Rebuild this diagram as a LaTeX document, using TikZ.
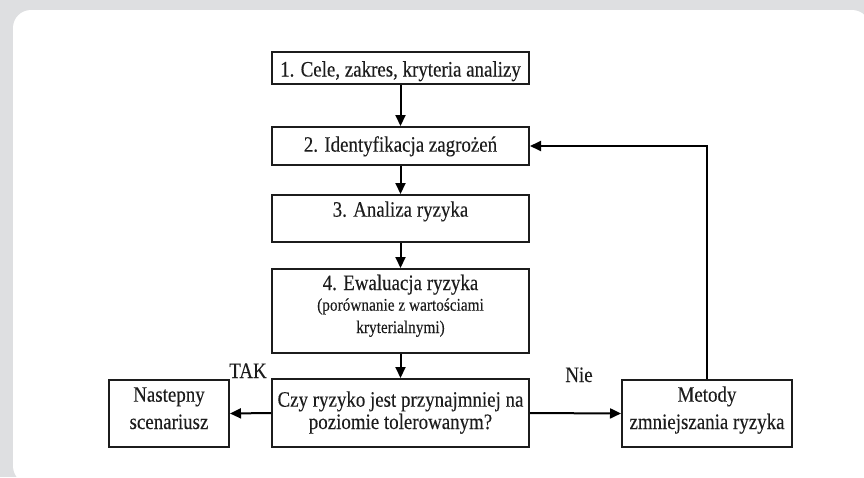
\documentclass[tikz,border=0pt]{standalone}
\usepackage{fontspec}
\setmainfont[FakeStretch=0.86, FakeBold=0.15]{Liberation Serif}
\usetikzlibrary{arrows.meta}
\newcommand\mainsize{\fontsize{22}{24}\selectfont}
\newcommand\smallsize{\fontsize{17.8}{20}\selectfont}
\definecolor{pagegray}{RGB}{222,223,225}
\definecolor{ink}{RGB}{28,28,28}
\begin{document}
\begin{tikzpicture}[x=1pt,y=-1pt,
  box/.style={draw=ink, line width=2pt, fill=white, inner sep=0pt},
  flow/.style={draw=black, line width=2pt, -{Triangle[length=11pt,width=10pt]}},
  lbl/.style={anchor=base, inner sep=0pt, text=ink, font=\mainsize},
  sml/.style={lbl, font=\smallsize}]

% page background and white panel
\useasboundingbox (0,0) rectangle (864,477);
\fill[pagegray] (0,0) rectangle (864,477);
\fill[white, rounded corners=18pt] (13,10) rectangle (870,484);

% main column of steps
\node[box, minimum width=257, minimum height=32] (b1) at (400.5,68) {};
\node[box, minimum width=257, minimum height=38] (b2) at (400.5,146) {};
\node[box, minimum width=257, minimum height=47] (b3) at (400.5,218.5) {};
\node[box, minimum width=257, minimum height=84] (b4) at (400.5,311) {};
\node[box, minimum width=257, minimum height=68] (b5) at (400.5,413) {};
% side boxes
\node[box, minimum width=120, minimum height=67] (nx) at (169,413.5) {};
\node[box, minimum width=170, minimum height=67] (md) at (707,413.5) {};

% box texts
\node[lbl] (t1) at (400.5,76.5) {1. Cele, zakres, kryteria analizy};
\node[lbl] (t2) at (400.5,151.7) {2. Identyfikacja zagrożeń};
\node[lbl] (t3) at (400.5,216.7) {3. Analiza ryzyka};
\node[lbl] (t4a) at (400.5,290) {4. Ewaluacja ryzyka};
\node[sml] (t4b) at (400.5,310.7) {(porównanie z wartościami};
\node[sml] (t4c) at (400.5,333) {kryterialnymi)};
\node[lbl] (t5a) at (400.5,406.7) {Czy ryzyko jest przynajmniej na};
\node[lbl] (t5b) at (400.5,429) {poziomie tolerowanym?};
\node[lbl] (tna) at (169,401.7) {Nastepny};
\node[lbl] (tnb) at (169,429) {scenariusz};
\node[lbl] (tma) at (707,401.7) {Metody};
\node[lbl] (tmb) at (707,429) {zmniejszania ryzyka};

% decision labels
\node[lbl] (tak) at (248,378) {TAK};
\node[lbl] (nie) at (579,382) {Nie};

% connectors
\draw[flow] (b1.south) -- (b2.north);
\draw[flow] (b2.south) -- (b3.north);
\draw[flow] (b3.south) -- (b4.north);
\draw[flow] (b4.south) -- (b5.north);
\draw[flow] (b5.west) -- (nx.east);
\draw[flow] (b5.east) -- (md.west);
\draw[flow] (md.north) |- (b2.east);
\end{tikzpicture}
\end{document}
